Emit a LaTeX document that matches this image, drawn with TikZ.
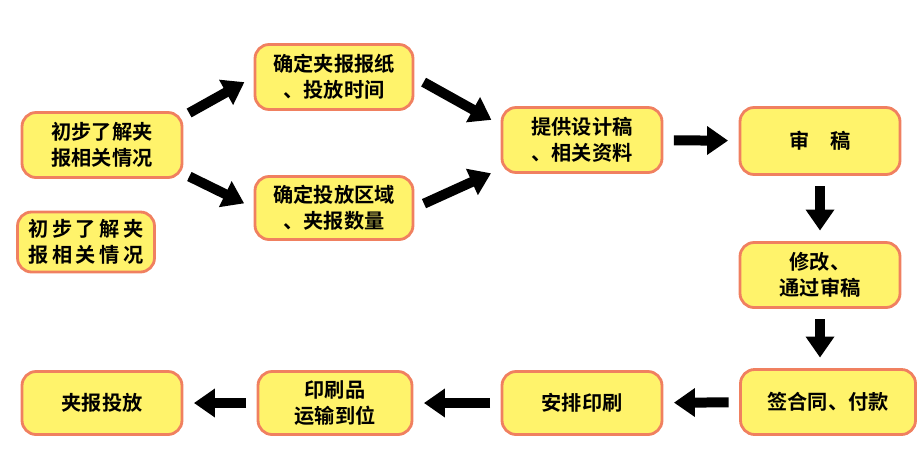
\documentclass[tikz,border=0pt]{standalone}
\usepackage{fontspec}
\newfontfamily\cjk{Noto Sans CJK SC Bold}
\usetikzlibrary{arrows.meta}
\definecolor{boxfill}{HTML}{FFF36B}
\definecolor{boxline}{HTML}{F08060}
\tikzset{
  stepbox/.style={draw=boxline, line width=1.6pt, fill=boxfill, rounded corners=8pt,
    align=center, font=\cjk\fontsize{11.5}{15}\selectfont, inner sep=0pt},
  bigarrow/.style={line width=0.2cm, -{Triangle[length=0.42cm, width=0.55cm]}, shorten >=6pt, shorten <=6pt}
}
\begin{document}
\begin{tikzpicture}[x=0.02cm, y=-0.02cm]
  \useasboundingbox (0,0) rectangle (919,453);
  \node[stepbox, minimum width=3.2cm, minimum height=1.3cm] (know) at (102,145) {初步了解夹\\报相关情况};
  \node[stepbox, minimum width=3.16cm, minimum height=1.3cm] (paper) at (334,77) {确定夹报报纸\\、投放时间};
  \node[stepbox, minimum width=3.16cm, minimum height=1.26cm] (area) at (334,208) {确定投放区域\\、夹报数量};
  \node[stepbox, minimum width=2.74cm, minimum height=1.2cm] (know2) at (86,242) {初\,步\,了\,解\,夹\\报\,相\,关\,情\,况};
  \node[stepbox, minimum width=3.2cm, minimum height=1.3cm] (design) at (582,140) {提供设计稿\\、相关资料};
  \node[stepbox, minimum width=3.2cm, minimum height=1.34cm] (review) at (820,141) {审\quad 稿};
  \node[stepbox, minimum width=3.2cm, minimum height=1.3cm] (revise) at (820,275) {修改、\\通过审稿};
  \node[stepbox, minimum width=3.5cm, minimum height=1.3cm] (sign) at (828,402) {签合同、付款};
  \node[stepbox, minimum width=3.2cm, minimum height=1.26cm] (print) at (582,403) {安排印刷};
  \node[stepbox, minimum width=3.08cm, minimum height=1.26cm] (ship) at (335,403) {印刷品\\运输到位};
  \node[stepbox, minimum width=3.2cm, minimum height=1.26cm] (drop) at (102,403) {夹报投放};

  \draw[bigarrow] ([xshift=-2pt,yshift=-4pt]know.north east) -- (paper.west);
  \draw[bigarrow] ([xshift=-2pt,yshift=4pt]know.south east) -- (area.west);
  \draw[bigarrow] (paper.east) -- ([yshift=0.3cm]design.west);
  \draw[bigarrow] (area.east) -- ([yshift=0.1cm]design.south west);
  \draw[bigarrow] (design) -- (review);
  \draw[bigarrow] (review) -- (revise);
  \draw[bigarrow] (revise) -- (revise |- sign.north);
  \draw[bigarrow] (sign) -- (print);
  \draw[bigarrow] (print) -- (ship);
  \draw[bigarrow] (ship) -- (drop);
\end{tikzpicture}
\end{document}
